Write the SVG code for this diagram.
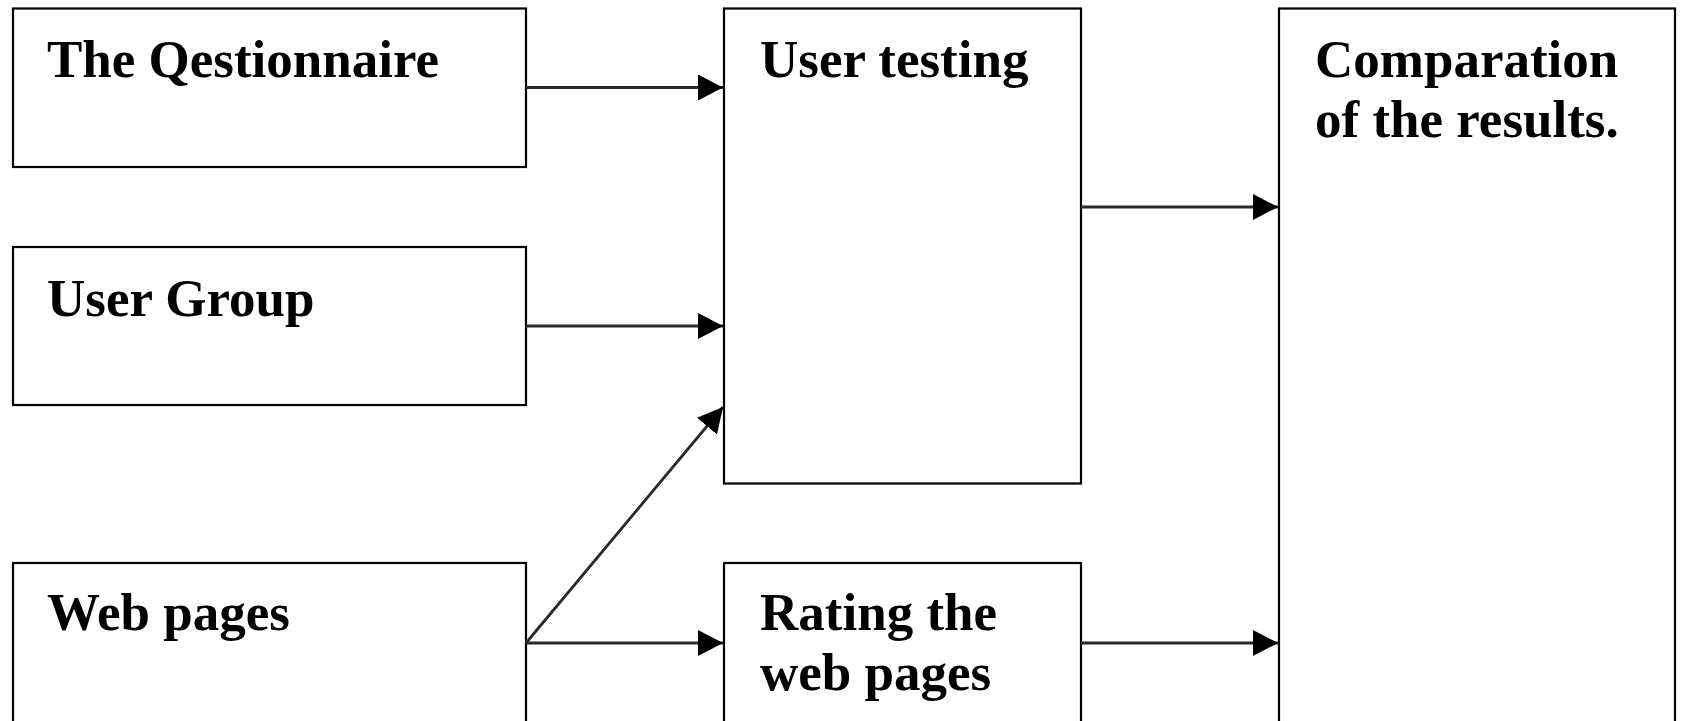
<svg xmlns="http://www.w3.org/2000/svg" width="1681" height="721" viewBox="0 0 1681 721">
  <style>
    .box { fill: #ffffff; stroke: #000000; stroke-width: 2.2; }
    .lbl { font-family: "Liberation Serif", "Times New Roman", serif; font-weight: bold; font-size: 53px; fill: #000000; }
    .conn { stroke: #2a2a2a; stroke-width: 2.8; fill: none; marker-end: url(#arrow); }
  </style>
  <defs>
    <marker id="arrow" markerUnits="userSpaceOnUse" markerWidth="25" markerHeight="26" refX="25" refY="13" orient="auto">
      <path d="M0,0 L25,13 L0,26 Z" fill="#000000"/>
    </marker>
  </defs>
  <rect width="1681" height="721" fill="#ffffff"/>
  <g id="node-questionnaire">
    <rect class="box" x="13" y="8.5" width="513" height="158.5"/>
    <text class="lbl" x="47" y="77">The Qestionnaire</text>
  </g>
  <g id="node-user-group">
    <rect class="box" x="13" y="247" width="513" height="158"/>
    <text class="lbl" x="47" y="316">User Group</text>
  </g>
  <g id="node-web-pages">
    <rect class="box" x="13" y="563" width="513" height="170"/>
    <text class="lbl" x="47" y="630">Web pages</text>
  </g>
  <g id="node-user-testing">
    <rect class="box" x="724" y="8.5" width="357" height="475"/>
    <text class="lbl" x="760" y="77">User testing</text>
  </g>
  <g id="node-rating">
    <rect class="box" x="724" y="563" width="357" height="170"/>
    <text class="lbl" x="760" y="630">Rating the</text>
    <text class="lbl" x="760" y="690">web pages</text>
  </g>
  <g id="node-comparation">
    <rect class="box" x="1279" y="8.5" width="396" height="725"/>
    <text class="lbl" x="1315" y="77">Comparation</text>
    <text class="lbl" x="1315" y="137">of the results.</text>
  </g>
  <g id="connectors">
    <line class="conn" x1="526" y1="87.5" x2="723" y2="87.5"/>
    <line class="conn" x1="526" y1="326" x2="723" y2="326"/>
    <line class="conn" x1="526" y1="643" x2="723" y2="407"/>
    <line class="conn" x1="526" y1="643" x2="723" y2="643"/>
    <line class="conn" x1="1081" y1="207" x2="1278" y2="207"/>
    <line class="conn" x1="1081" y1="643" x2="1278" y2="643"/>
  </g>
</svg>
